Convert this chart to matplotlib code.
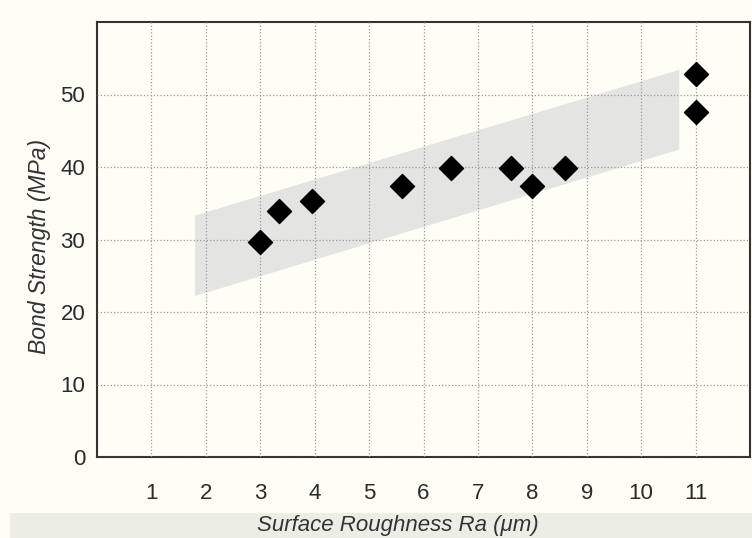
import matplotlib.pyplot as plt
from matplotlib.patches import Polygon, Rectangle

# data
roughness = [3.0, 3.35, 3.95, 5.6, 6.5, 7.6, 8.0, 8.6, 11.0, 11.0]
strength = [29.6, 33.9, 35.3, 37.4, 39.9, 39.8, 37.4, 39.9, 52.8, 47.6]
band_x = [1.8, 10.7, 10.7, 1.8]
band_y = [33.3, 53.4, 42.4, 22.2]
x_ticks = list(range(1, 12))
y_ticks = [0, 10, 20, 30, 40, 50]

plt.rcParams['font.family'] = ['Liberation Sans', 'DejaVu Sans']

fig = plt.figure(figsize=(7.52, 5.38), dpi=100)
fig.patch.set_facecolor('#fdfdf5')
# grey strip behind the x label
fig.patches.append(Rectangle((10 / 752, 0), 1, 25 / 538, transform=fig.transFigure,
                             facecolor='#eceee6', edgecolor='none', zorder=-1))

ax = fig.add_axes([97 / 752, 81 / 538, 653 / 752, 435 / 538])
ax.set_facecolor('#fefef7')

ax.add_patch(Polygon(list(zip(band_x, band_y)), closed=True,
                     facecolor='#e4e4e2', edgecolor='none', zorder=1))
ax.scatter(roughness, strength, marker='D', s=150, color='black', zorder=3)

ax.set_xlim(0, 12)
ax.set_ylim(0, 60)
ax.set_xticks(x_ticks)
ax.set_yticks(y_ticks)
ax.tick_params(length=0, labelsize=16, colors='#2a2a2a')
ax.tick_params(axis='x', pad=19)
ax.tick_params(axis='y', pad=8.5)
ax.grid(True, linestyle=':', color='#999999', linewidth=0.9, zorder=2)
ax.set_axisbelow(False)
for sp in ax.spines.values():
    sp.set_color('#333333')
    sp.set_linewidth(1.5)

ax.set_xlabel('Surface Roughness Ra (\u03bcm)', fontsize=16, style='italic',
              color='#333333', va='center')
ax.xaxis.set_label_coords(301 / 653, -68 / 435)
ax.set_ylabel('Bond Strength (MPa)', fontsize=16.5, style='italic',
              color='#333333', va='center')
ax.yaxis.set_label_coords(-57 / 653, 211 / 435)

fig.savefig('out.png', dpi=100, facecolor=fig.get_facecolor())
